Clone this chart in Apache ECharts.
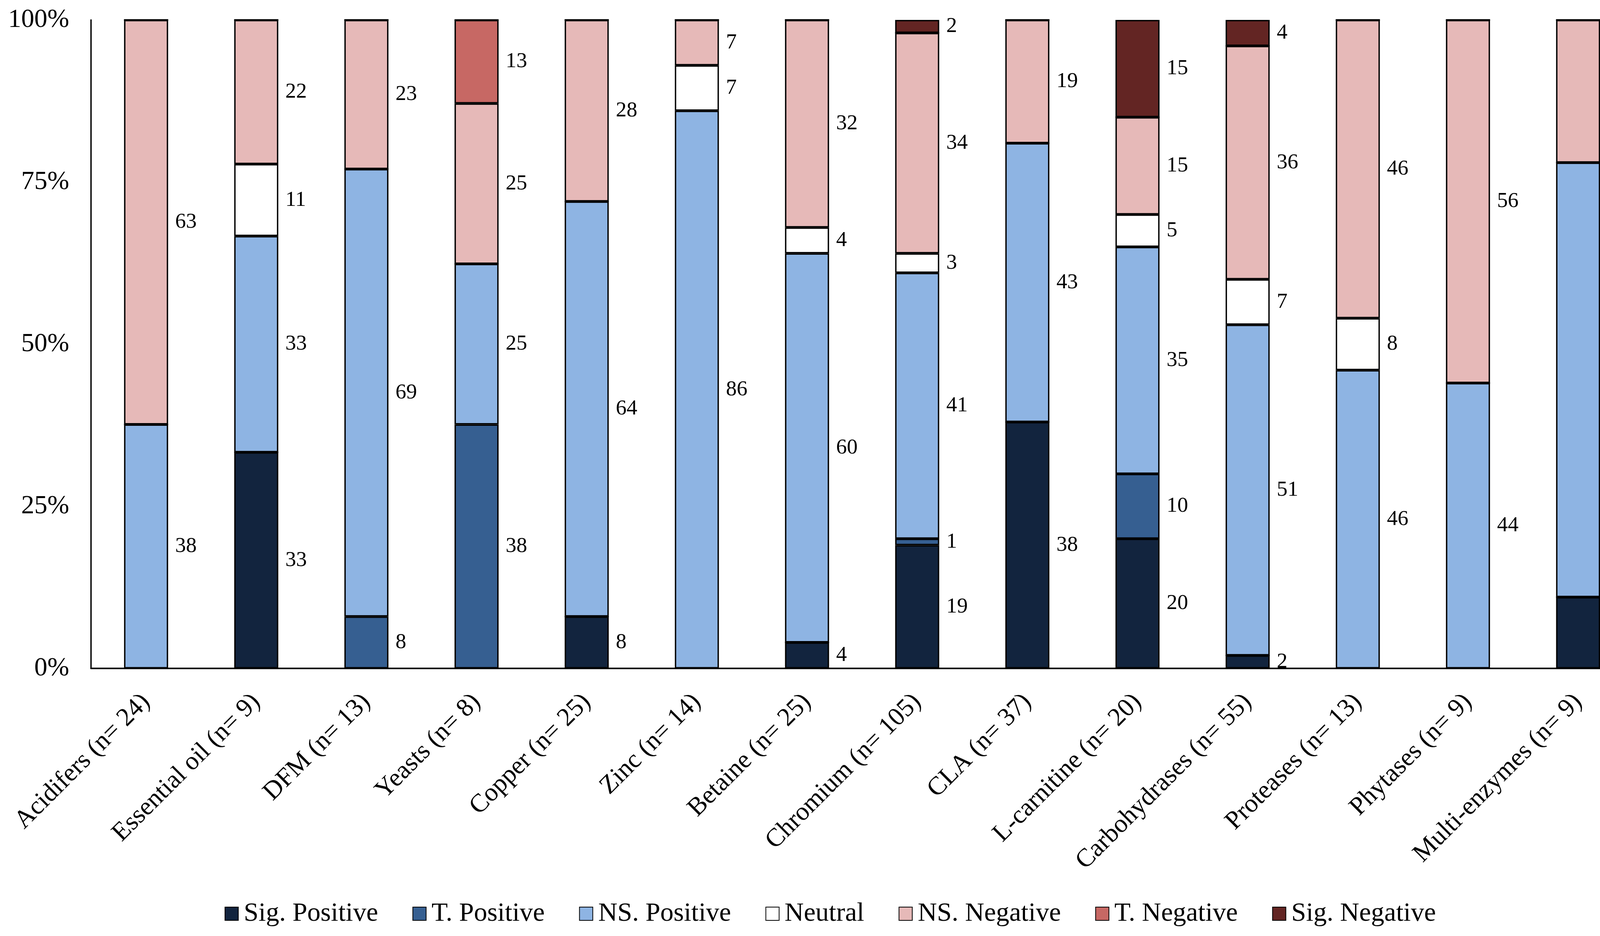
<!DOCTYPE html>
<html>
<head>
<meta charset="utf-8">
<script src="https://cdn.jsdelivr.net/npm/echarts@6/dist/echarts.min.js"></script>
<style>
html,body{margin:0;padding:0;background:#fff;}
#chart{width:4201px;height:2396px;}
</style>
</head>
<body>
<div id="chart"></div>
<script>
const categories = ['Acidifers (n= 24)','Essential oil (n= 9)','DFM (n= 13)','Yeasts (n= 8)','Copper (n= 25)','Zinc (n= 14)','Betaine (n= 25)','Chromium (n= 105)','CLA (n= 37)','L-carnitine (n= 20)','Carbohydrases (n= 55)','Proteases (n= 13)','Phytases (n= 9)','Multi-enzymes (n= 9)'];
const seriesNames = ['Sig. Positive','T. Positive','NS. Positive','Neutral','NS. Negative','T. Negative','Sig. Negative'];
const sigPositive = [0,33,0,0,8,0,4,19,38,20,2,0,0,11];
const tPositive   = [0,0,8,38,0,0,0,1,0,10,0,0,0,0];
const nsPositive  = [38,33,69,25,64,86,60,41,43,35,51,46,44,67];
const neutral     = [0,11,0,0,0,7,4,3,0,5,7,8,0,0];
const nsNegative  = [63,22,23,25,28,7,32,34,19,15,36,46,56,22];
const tNegative   = [0,0,0,13,0,0,0,0,0,0,0,0,0,0];
const sigNegative = [0,0,0,0,0,0,0,2,0,15,4,0,0,0];
const yTicks = [0,25,50,75,100];

const seriesData = [sigPositive,tPositive,nsPositive,neutral,nsNegative,tNegative,sigNegative];
const colors = ['#12243e','#365f91','#8eb4e3','#ffffff','#e6b9b8','#c76864','#632523'];
// 100% stacked: each category is scaled to its own total
const totals = categories.map((c,i)=>seriesData.reduce((s,arr)=>s+arr[i],0));
const FONT = 'Liberation Serif';

const chart = echarts.init(document.getElementById('chart'), null, {renderer:'canvas'});
chart.setOption({
  backgroundColor:'#fff',
  animation:false,
  textStyle:{fontFamily:FONT},
  grid:{left:233, right:20, top:51, bottom:685, containLabel:false},
  legend:{
    data:seriesNames,
    left:575, top:2305, padding:0,
    itemWidth:34, itemHeight:34, itemGap:88,
    textStyle:{fontFamily:FONT, fontSize:68, color:'#000', padding:[0,0,0,9]},
    icon:'rect'
  },
  xAxis:{
    type:'category',
    data:categories,
    axisLine:{show:true, lineStyle:{color:'#000', width:4}},
    axisTick:{show:false},
    axisLabel:{rotate:45, interval:0, margin:76, fontFamily:FONT, fontSize:66, color:'#000'}
  },
  yAxis:{
    type:'value',
    min:0, max:100, interval:25,
    axisLine:{show:true, lineStyle:{color:'#000', width:3.5}},
    axisTick:{show:false},
    splitLine:{show:false},
    axisLabel:{margin:56, fontFamily:FONT, fontSize:67, color:'#000',
      formatter:(v)=> yTicks.indexOf(v)>=0 ? v+'%' : ''}
  },
  series: seriesNames.map((name,si)=>({
    name:name,
    type:'bar',
    stack:'total',
    barWidth:'40%',
    itemStyle:{color:colors[si], borderColor:'#000', borderWidth:3.5},
    label:{
      show:true, position:'right', distance:18,
      fontFamily:FONT, fontSize:55, color:'#000',
      formatter:(p)=> seriesData[si][p.dataIndex] ? String(seriesData[si][p.dataIndex]) : ''
    },
    data: seriesData[si].map((v,i)=> v/totals[i]*100)
  }))
});
</script>
</body>
</html>
